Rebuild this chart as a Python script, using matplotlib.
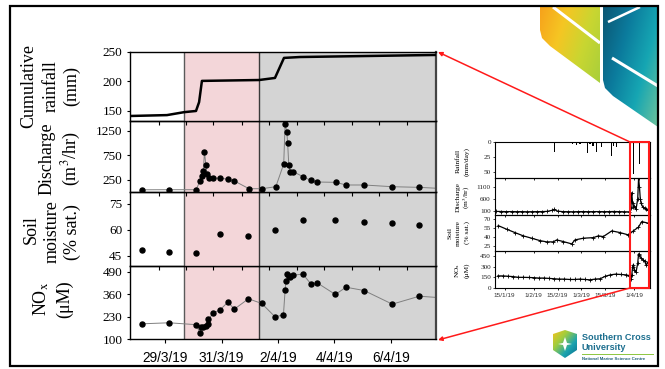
import numpy as np
import matplotlib
matplotlib.use('Agg')
import matplotlib.pyplot as plt
from matplotlib.patches import Polygon, Rectangle
from matplotlib.colors import LinearSegmentedColormap

plt.rcParams['font.family'] = 'Liberation Serif'
plt.rcParams['mathtext.fontset'] = 'stix'

W, H = 665, 369

# ==============================================================================
# DATA  (main chart: days since 28/3/19 00:00)
# ==============================================================================

rain_day = [-0.25, 1.06, 1.67, 2.09, 2.20, 2.30, 4.33, 4.89, 5.21, 5.78, 10.6]
rain_cum = [141.5, 143, 148, 150, 165, 201, 202.5, 206, 240, 241.5, 245]

# last value is where the line leaves the frame (no marker)
dis_day = [0.17, 1.14, 2.09, 2.23, 2.29, 2.35, 2.39, 2.44, 2.48, 2.55, 2.71, 2.94,
           3.22, 3.45, 3.97, 4.42, 4.92, 5.20, 5.25, 5.31, 5.34, 5.38, 5.43, 5.54,
           5.88, 6.16, 6.39, 7.05, 7.41, 8.05, 9.05, 10.01, 10.6]
dis_val = [50, 52, 52, 223, 332, 434, 828, 556, 366, 291, 284, 291,
           264, 230, 72, 72, 113, 576, 1393, 1230, 999, 556, 420, 420,
           318, 243, 209, 202, 148, 148, 113, 100, 82]

soil_day = [0.17, 1.14, 2.09, 2.94, 3.95, 4.89, 5.88, 7.03, 8.05, 9.05, 10.01]
soil_val = [48.3, 47.3, 46.7, 57.9, 56.5, 60.2, 65.8, 65.6, 64.6, 64.2, 63.1]

nox_day = [0.17, 1.14, 2.09, 2.23, 2.27, 2.35, 2.44, 2.51, 2.53, 2.71, 2.94, 3.22,
           3.45, 3.95, 4.42, 4.89, 5.19, 5.25, 5.28, 5.33, 5.38, 5.43, 5.54, 5.88,
           6.16, 6.39, 7.03, 7.41, 8.05, 9.05, 10.01, 10.6]
nox_val = [188, 194, 183, 136, 168, 171, 177, 187, 214, 252, 268, 314,
           273, 333, 306, 229, 239, 383, 435, 476, 464, 460, 470, 476,
           420, 425, 358, 400, 381, 302, 348, 341]

date_ticks = [1, 3, 5, 7, 9]
date_labels = ['29/3/19', '31/3/19', '2/4/19', '4/4/19', '6/4/19']
day_ticks = [0.78, 1.74, 2.70, 3.72, 4.68, 5.67, 6.63, 7.62, 8.58, 9.57]
event_1 = (1.67, 4.33)     # pink
event_2 = (4.33, 10.6)     # grey

# ==============================================================================
# DATA  (inset: day of year 2019)
# ==============================================================================

ins_rain_doy = [26.9, 35.7, 40.6, 44.1, 54.6, 57.2, 59.2, 63.7, 65, 66.8,
                69, 71.9, 77.8, 78.7, 80.7, 90.4, 94]
ins_rain_mm = [1, 1, 1.5, 17, 3, 5, 3, 19, 4, 6,
               17, 8, 24, 6, 8, 54, 37]

ins_dis_doy = [10, 13, 16, 19, 22, 25, 28, 31, 34, 37, 40, 43, 44, 46, 49, 52,
               55, 58, 61, 64, 67, 70, 73, 76, 79, 82, 85, 88, 89, 89.5, 90,
               90.5, 91, 92, 93, 93.5, 94, 94.5, 95, 96, 97, 98, 99, 100]
ins_dis_val = [70, 65, 60, 62, 58, 60, 55, 58, 60, 62, 70, 120, 150, 80, 60, 58,
               55, 60, 62, 58, 60, 62, 58, 60, 65, 60, 55, 50, 200, 850, 400,
               250, 300, 150, 600, 1460, 1100, 600, 400, 250, 200, 150, 120, 100]

ins_soil_doy = [11.2, 16.1, 21, 25.9, 30.8, 35.7, 39.6, 43.5, 45.5, 49.4, 54.3, 56.2,
                61.1, 67, 69.9, 72.8, 77.8, 82.6, 87.5, 90.4, 93.4, 95.4, 99.2]
ins_soil_val = [59.3, 53.3, 47.7, 42.2, 38.3, 34.3, 32.2, 32.2, 35.5, 32.7, 28.8, 35.5,
                38.3, 39.3, 42.2, 41, 50.5, 47.7, 43.8, 50.5, 56.7, 66, 63.3]

ins_nox_doy = [11, 14, 17, 20, 23, 26, 29, 32, 35, 38, 41, 44, 47, 50, 53, 56,
               59, 62, 65, 68, 71, 74, 77, 80, 83, 86, 88, 89, 89.5, 90, 90.5,
               91, 92, 93, 93.5, 94, 95, 96, 97, 98, 99, 100]
ins_nox_val = [170, 170, 165, 160, 150, 150, 148, 145, 140, 140, 135, 130, 125, 125, 120, 120,
               125, 120, 115, 125, 130, 165, 185, 195, 190, 185, 175, 130, 180, 300, 330,
               260, 220, 350, 480, 460, 420, 400, 380, 320, 360, 340]

ins_date_ticks = [15, 32, 46, 60, 74, 91]
ins_date_labels = ['15/1/19', '1/2/19', '15/2/19', '1/3/19', '15/3/19', '1/4/19']

# ==============================================================================
# HELPERS
# ==============================================================================

def px_axes(fig, left, top, right, bottom, **kw):
    """Axes placed with pixel coordinates (origin top-left)."""
    return fig.add_axes([left / W, 1 - bottom / H, (right - left) / W, (bottom - top) / H], **kw)


def gradient_poly(ax, verts, colors, wx=1.0, wy=0.5, zorder=1):
    poly = Polygon(verts, closed=True, facecolor='none', edgecolor='none', zorder=zorder)
    ax.add_patch(poly)
    xs = [v[0] for v in verts]
    ys = [v[1] for v in verts]
    x0, x1, y0, y1 = min(xs), max(xs), min(ys), max(ys)
    X, Y = np.meshgrid(np.linspace(0, 1, 120), np.linspace(0, 1, 120))
    t = (wx * X + wy * Y) / (wx + wy)
    cmap = LinearSegmentedColormap.from_list('g', colors)
    im = ax.imshow(t, cmap=cmap, extent=(x0, x1, y1, y0), origin='upper',
                   aspect='auto', interpolation='bilinear', zorder=zorder)
    im.set_clip_path(poly)


# ==============================================================================
# FIGURE / SLIDE BACKGROUND
# ==============================================================================

fig = plt.figure(figsize=(W / 100, H / 100), dpi=100)

bg = fig.add_axes([0, 0, 1, 1], zorder=0)
bg.axis('off')

# top-right decorative leaves
gradient_poly(bg, [(540, 7), (600, 7), (600, 83), (550, 46), (542, 38), (540, 30)],
              ['#f7a21b', '#f5c623', '#c9d631', '#a9cf3b'], wx=1.0, wy=0.4)
gradient_poly(bg, [(603, 7), (658, 7), (658, 127), (613, 96), (605, 88), (603, 80)],
              ['#0b5673', '#0b7a9c', '#16a6b3', '#6cc29c'], wx=1.0, wy=0.6)
bg.plot([553, 600], [7, 43], color='white', lw=2.2, solid_capstyle='butt')
bg.plot([612, 658], [58, 86], color='white', lw=2.2, solid_capstyle='butt')
bg.plot([608, 640], [22, 7], color='white', lw=1.8, solid_capstyle='butt')

# SCU logo
gradient_poly(bg, [(553, 334), (565, 330), (577, 334), (577, 350), (565, 358), (553, 350)],
              ['#f6c21c', '#9fcd3f', '#1aa3b0', '#0b6b8c'], wx=1.0, wy=1.0)
bg.add_patch(Polygon([(565, 337), (567, 343), (572, 344), (567, 345), (565, 351),
                      (563, 345), (558, 344), (563, 343)], closed=True,
                     facecolor='white', edgecolor='none', zorder=3))
bg.text(582, 337.5, 'Southern Cross', family='Liberation Sans', weight='bold',
        fontsize=6.6, color='#1d6f8f', va='center', ha='left', zorder=3)
bg.text(582, 347.5, 'University', family='Liberation Sans', weight='bold',
        fontsize=6.6, color='#1d6f8f', va='center', ha='left', zorder=3)
bg.plot([582, 653], [354, 354], color='#8dc63f', lw=0.7, zorder=3)
bg.text(582, 359.5, 'National Marine Science Centre', family='Liberation Sans',
        weight='bold', fontsize=3.1, color='#1d5f7a', va='center', ha='left', zorder=3)

# slide frame
bg.add_patch(Rectangle((10, 6), 648, 360, fill=False, edgecolor='black', lw=1.6, zorder=3))

# y-axis titles (main)
main_titles = [
    (29, 86, 'Cumulative'), (51, 86, 'rainfall'), (72, 86, '(mm)'),
    (47, 159, 'Discharge'), (71, 159, '(m$^3$/hr)'),
    (31, 230, 'Soil'), (52, 232, 'moisture'), (72, 232, '(% sat.)'),
    (41, 299, 'NO$_\\mathrm{x}$'), (65, 299, '(\u03bcM)'),
]
for x, y, s in main_titles:
    bg.text(x, y, s, rotation=90, ha='center', va='center', fontsize=13)

# y-axis titles (inset)
ins_titles = [
    (458, 161, 'Rainfall'), (467, 161, '(mm/day)'),
    (458, 197, 'Discharge'), (467, 197, '(m$^3$/hr)'),
    (450, 233, 'Soil'), (458, 233, 'moisture'), (467, 233, '(% sat.)'),
    (458, 270, 'NO$_\\mathrm{x}$'), (467, 270, '(\u03bcM)'),
]
for x, y, s in ins_titles:
    bg.text(x, y, s, rotation=90, ha='center', va='center', fontsize=5.3)

bg.set_xlim(0, W)
bg.set_ylim(H, 0)

# ==============================================================================
# MAIN CHART
# ==============================================================================

main_rows = [(52, 121), (121, 192), (192, 266), (266, 339)]
ylims = [(133, 250), (5, 1454), (39.2, 81.9), (100, 523)]
yticks = [[150, 200, 250], [250, 750, 1250], [45, 60, 75], [100, 230, 360, 490]]

axs = []
for i, (top, bottom) in enumerate(main_rows):
    ax = px_axes(fig, 130, top, 436, bottom, zorder=5 - i)
    ax.set_facecolor('none')
    ax.set_xlim(-0.25, 10.6)
    ax.set_ylim(*ylims[i])
    ax.axvspan(*event_1, color='#f3d6d9', lw=0, zorder=0)
    ax.axvspan(*event_2, color='#d4d4d4', lw=0, zorder=0)
    ax.axvline(event_1[0], color='#5a5a5a', lw=1.0, zorder=1)
    ax.axvline(event_1[1], color='#3a3a3a', lw=1.0, zorder=1)
    for sp in ax.spines.values():
        sp.set_color('black')
        sp.set_linewidth(1.0)
    ax.spines['right'].set_color('#444444')
    ax.spines['right'].set_linewidth(1.6)
    ax.set_yticks(yticks[i])
    ax.tick_params(axis='y', direction='out', length=2.5, width=0.8, pad=3, labelsize=9.5)
    if i < 3:
        ax.set_xticks(day_ticks)
        ax.tick_params(axis='x', direction='out', length=3, width=0.8, labelbottom=False)
    else:
        ax.set_xticks(date_ticks, date_labels)
        ax.tick_params(axis='x', direction='out', length=3, width=0.8, pad=6)
        for lab in ax.get_xticklabels():
            lab.set_family('Liberation Sans')
            lab.set_fontsize(9.8)
    axs.append(ax)

# 1. cumulative rainfall
axs[0].plot(rain_day, rain_cum, color='black', lw=1.8, zorder=3)

# 2. discharge
axs[1].plot(dis_day, dis_val, '-', color='#808080', lw=0.7, zorder=2)
axs[1].plot(dis_day[:-1], dis_val[:-1], 'o', color='black', ms=3.6, zorder=3)

# 3. soil moisture
axs[2].plot(soil_day, soil_val, 'o', color='black', ms=3.6, zorder=3)

# 4. NOx
axs[3].plot(nox_day, nox_val, '-', color='#808080', lw=0.7, zorder=2)
axs[3].plot(nox_day[:-1], nox_val[:-1], 'o', color='black', ms=3.6, zorder=3)

# ==============================================================================
# INSET (whole record)
# ==============================================================================

ins_rows = [(142, 178), (178, 215), (215, 251), (251, 288)]
ins_ylims = [(61, 0), (-80, 1460), (17, 77), (0, 520)]
ins_yticks = [[0, 25, 50], [100, 600, 1100], [25, 40, 55, 70], [0, 150, 300, 450]]

ins = []
for i, (top, bottom) in enumerate(ins_rows):
    ax = px_axes(fig, 495, top, 650, bottom, zorder=5 - i)
    ax.set_facecolor('none')
    ax.set_xlim(9.3, 100.2)
    ax.set_ylim(*ins_ylims[i])
    for sp in ax.spines.values():
        sp.set_color('black')
        sp.set_linewidth(0.8)
    ax.set_yticks(ins_yticks[i])
    ax.tick_params(axis='y', direction='out', length=1.5, width=0.6, pad=1.5,
                   labelsize=5.2, colors='#222222')
    ax.set_xticks(ins_date_ticks)
    if i < 3:
        ax.tick_params(axis='x', direction='out', length=1.5, width=0.6, labelbottom=False)
    else:
        ax.set_xticklabels(ins_date_labels)
        ax.tick_params(axis='x', direction='out', length=1.5, width=0.6, pad=2)
        for lab in ax.get_xticklabels():
            lab.set_family('Liberation Sans')
            lab.set_fontsize(4.6)
            lab.set_color('#333333')
    ins.append(ax)

ins[0].bar(ins_rain_doy, ins_rain_mm, width=0.7, color='black')
ins[1].plot(ins_dis_doy, ins_dis_val, '-+', color='black', lw=0.9, ms=2.2, mew=0.6)
ins[2].plot(ins_soil_doy, ins_soil_val, '-+', color='black', lw=0.9, ms=2.2, mew=0.6)
ins[3].plot(ins_nox_doy, ins_nox_val, '-+', color='black', lw=0.9, ms=2.2, mew=0.6)

# ==============================================================================
# OVERLAY: zoom box + arrows
# ==============================================================================

top = fig.add_axes([0, 0, 1, 1], zorder=20)
top.patch.set_alpha(0)
top.axis('off')
top.add_patch(Rectangle((630, 142), 19, 146, fill=False, edgecolor='#ff1a1a', lw=1.5))
arrow = dict(arrowstyle='-|>', color='#ff1a1a', lw=1.1, mutation_scale=6, shrinkA=0, shrinkB=0)
top.annotate('', xy=(438, 52), xytext=(630, 142), arrowprops=arrow)
top.annotate('', xy=(438, 340), xytext=(630, 288), arrowprops=arrow)
top.set_xlim(0, W)
top.set_ylim(H, 0)

fig.savefig('out.png', dpi=100)
